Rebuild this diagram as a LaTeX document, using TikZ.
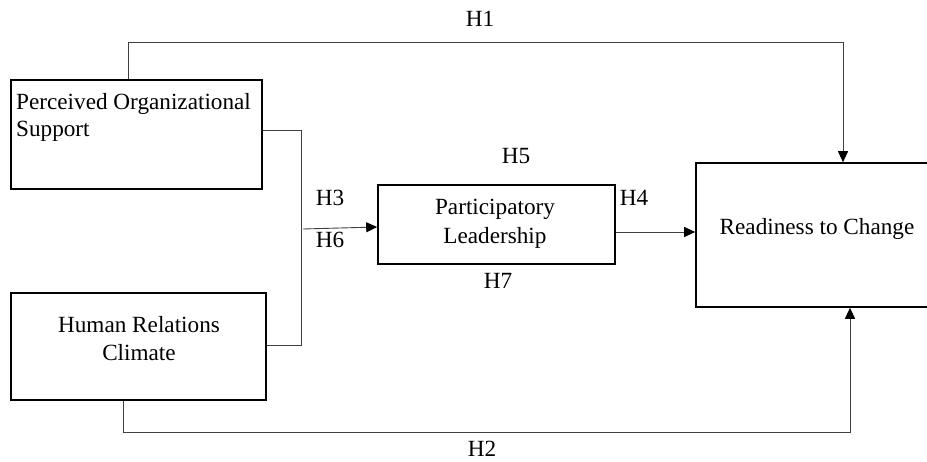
\documentclass[tikz,border=0pt]{standalone}
\usepackage{fontspec}
\setmainfont{Liberation Serif}
\usetikzlibrary{arrows.meta}
\begin{document}
\begin{tikzpicture}[x=1pt,y=-1pt,
  box/.style={draw=black,line width=1.6pt,inner sep=0pt},
  conn/.style={draw=black!75,line width=0.9pt},
  arr/.style={conn,-{Triangle[length=11pt,width=10pt,color=black]}},
  txt/.style={inner sep=0pt,anchor=base,font=\fontsize{23.2}{27}\selectfont},
  txtl/.style={txt,anchor=base west}]
\useasboundingbox (0,0) rectangle (927,462);
% boxes
\node[box,minimum width=251pt,minimum height=109pt] (pos) at (136.5,134.5) {};
\node[box,minimum width=255pt,minimum height=107pt] (hrc) at (138.5,346.5) {};
\node[box,minimum width=237pt,minimum height=79pt] (pl) at (496.5,224.5) {};
\node[box,minimum width=234pt,minimum height=144pt] (rtc) at (813,235) {};
% texts
\node[txtl] (posa) at (16,110) {Perceived Organizational};
\node[txtl] (posb) at (16,137) {Support};
\node[txt] (hrca) at (139,333) {Human Relations};
\node[txt] (hrcb) at (139,361) {Climate};
\node[txt] (pla) at (495,215) {Participatory};
\node[txt] (plb) at (495,244) {Leadership};
\node[txt] (rtct) at (817,235) {Readiness to Change};
\node[txt] (h1) at (480,27) {H1};
\node[txt] (h2) at (482,456) {H2};
\node[txt] (h3) at (330,206) {H3};
\node[txt] (h6) at (330,248) {H6};
\node[txt] (h5) at (516,164) {H5};
\node[txt] (h7) at (498,289) {H7};
\node[txt] (h4) at (634,206) {H4};
% coordinates
\coordinate (b1) at (301,130);
\coordinate (b2) at (301,345);
\coordinate (bm) at (303,229);
% connectors
\draw[arr] (pos.north -| 128,0) |- (843,42) -- (rtc.north -| 843,0);
\draw[arr] (hrc.south -| 123,0) |- (850,432) -- (rtc.south -| 850,0);
\draw[conn] (pos.east |- b1) -- (b1) -- (b2) -- (hrc.east |- b2);
\draw[arr] (bm) -- (pl.west |- 0,227);
\draw[arr] (pl.east |- 0,232) -- (rtc.west |- 0,232);
\end{tikzpicture}
\end{document}
